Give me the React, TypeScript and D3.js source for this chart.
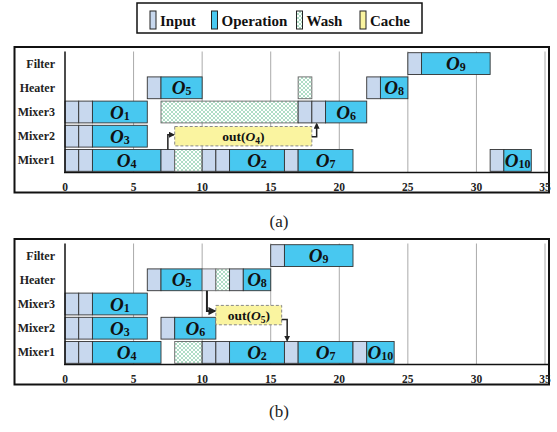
import React from "react";
import * as d3 from "d3";

const ROWS = ["Filter", "Heater", "Mixer3", "Mixer2", "Mixer1"];
const TICKS = [0, 5, 10, 15, 20, 25, 30, 35];
const LEGEND = [
  { kind: "input", label: "Input" },
  { kind: "op", label: "Operation" },
  { kind: "wash", label: "Wash" },
  { kind: "cache", label: "Cache" },
];

type Seg = [string, number, number, string, string?];

const tasksA: Seg[] = [
  ["Filter", 25, 26, "input"], ["Filter", 26, 31, "op", "9"],
  ["Heater", 6, 7, "input"], ["Heater", 7, 10, "op", "5"], ["Heater", 17, 18, "wash"],
  ["Heater", 22, 23, "input"], ["Heater", 23, 25, "op", "8"],
  ["Mixer3", 0, 1, "input"], ["Mixer3", 1, 2, "input"], ["Mixer3", 2, 6, "op", "1"],
  ["Mixer3", 7, 17, "wash"], ["Mixer3", 17, 18, "input"], ["Mixer3", 18, 19, "input"], ["Mixer3", 19, 22, "op", "6"],
  ["Mixer2", 0, 1, "input"], ["Mixer2", 1, 2, "input"], ["Mixer2", 2, 6, "op", "3"],
  ["Mixer1", 0, 1, "input"], ["Mixer1", 1, 2, "input"], ["Mixer1", 2, 7, "op", "4"],
  ["Mixer1", 7, 8, "input"], ["Mixer1", 8, 10, "wash"], ["Mixer1", 10, 11, "input"], ["Mixer1", 11, 12, "input"],
  ["Mixer1", 12, 16, "op", "2"], ["Mixer1", 16, 17, "input"], ["Mixer1", 17, 21, "op", "7"],
  ["Mixer1", 31, 32, "input"], ["Mixer1", 32, 34, "op", "10"],
];

const tasksB: Seg[] = [
  ["Filter", 15, 16, "input"], ["Filter", 16, 21, "op", "9"],
  ["Heater", 6, 7, "input"], ["Heater", 7, 10, "op", "5"], ["Heater", 10, 11, "hold"],
  ["Heater", 11, 12, "wash"], ["Heater", 12, 13, "input"], ["Heater", 13, 15, "op", "8"],
  ["Mixer3", 0, 1, "input"], ["Mixer3", 1, 2, "input"], ["Mixer3", 2, 6, "op", "1"],
  ["Mixer2", 0, 1, "input"], ["Mixer2", 1, 2, "input"], ["Mixer2", 2, 6, "op", "3"],
  ["Mixer2", 7, 8, "input"], ["Mixer2", 8, 11, "op", "6"],
  ["Mixer1", 0, 1, "input"], ["Mixer1", 1, 2, "input"], ["Mixer1", 2, 7, "op", "4"],
  ["Mixer1", 8, 10, "wash"], ["Mixer1", 10, 11, "input"], ["Mixer1", 11, 12, "input"],
  ["Mixer1", 12, 16, "op", "2"], ["Mixer1", 16, 17, "input"], ["Mixer1", 17, 21, "op", "7"],
  ["Mixer1", 21, 22, "input"], ["Mixer1", 22, 24, "op", "10"],
];

// cache: [start, end, label, arrow-in x, arrow-out x]
const cacheA = [8, 18, "4", 7.5, 18.35];
const cacheB = [11, 15.8, "5", 10.35, 16.2];

const FONT = "'Liberation Serif', 'Times New Roman', serif";
const FILL: Record<string, string> = {
  input: "#c8d8ee",
  op: "#48c8f0",
  wash: "url(#washPat)",
  hold: "#dfe5f3",
  cache: "#faf4a0",
};

const x = d3.scaleLinear().domain([0, 35]).range([65, 545]);

function Panel({ top, tasks, cache, variant, caption }: any) {
  const plotTop = top + 4.5;
  const axisY = top + 125.5;
  const y = d3.scaleBand<string>().domain(ROWS).range([plotTop, axisY]);
  const step = y.step();
  const bh = 21.8;
  const by = (r: string) => (y(r) as number) + (step - bh) / 2;
  const cy = (r: string) => (y(r) as number) + step / 2;

  const [cs, ce, clab, ax1, ax2] = cache as [number, number, string, number, number];
  let cacheY: number;
  const cacheH = 19.4;
  if (variant === "a") cacheY = cy("Mixer2") - cacheH / 2;
  else cacheY = (cy("Mixer3") + cy("Mixer2")) / 2 - 1 - cacheH / 2;
  const cacheMid = cacheY + cacheH / 2;

  let pathIn: string, pathOut: string;
  if (variant === "a") {
    pathIn = `M${x(ax1)},${by("Mixer1")} V${cacheMid - 1.5} H${x(cs) - 1}`;
    pathOut = `M${x(ce)},${cacheMid + 0.5} H${x(ax2)} V${by("Mixer3") + bh + 1}`;
  } else {
    pathIn = `M${x(ax1)},${by("Heater") + bh} V${cacheMid - 4} H${x(cs) - 1}`;
    pathOut = `M${x(ce)},${cacheMid + 4.5} H${x(ax2)} V${by("Mixer1") - 1}`;
  }

  return (
    <g>
      <rect x={14.5} y={top} width={534.5} height={145.5} fill="none" stroke="#111" strokeWidth={2} />
      {TICKS.filter((t) => t > 0).map((t) => (
        <line key={t} x1={x(t)} x2={x(t)} y1={plotTop} y2={axisY} stroke="#aaa" strokeWidth={1} />
      ))}
      {tasks.map((s: Seg, i: number) => {
        const [r, a, b, k] = s;
        return (
          <rect key={i} x={x(a)} y={by(r)} width={x(b) - x(a)} height={bh} fill={FILL[k]}
            stroke={k === "wash" || k === "hold" ? "#666" : "#333"} strokeWidth={0.9} />
        );
      })}
      {tasks.filter((s: Seg) => s[3] === "op").map((s: Seg, i: number) => {
        const [r, a, b, , lab] = s;
        return (
          <text key={i} x={(x(a) + x(b)) / 2} y={cy(r) + 6.5} textAnchor="middle" fontFamily={FONT}
            fontWeight="bold" fill="#111">
            <tspan fontStyle="italic" fontSize={19}>O</tspan>
            <tspan fontSize={12} dy={1}>{lab}</tspan>
          </text>
        );
      })}
      <rect x={x(cs)} y={cacheY} width={x(ce) - x(cs)} height={cacheH} fill={FILL.cache}
        stroke="#888" strokeWidth={1} strokeDasharray="3,2" />
      <text x={(x(cs) + x(ce)) / 2} y={cacheMid + 4.5} textAnchor="middle" fontFamily={FONT}
        fontWeight="bold" fontSize={13.5} fill="#111">
        <tspan>out(</tspan>
        <tspan fontStyle="italic">O</tspan>
        <tspan fontSize={9.5} dy={3}>{clab}</tspan>
        <tspan dy={-3}>)</tspan>
      </text>
      <path d={pathIn} fill="none" stroke="#222" strokeWidth={variant === "a" ? 1.5 : 2} markerEnd="url(#arrowHead)" />
      <path d={pathOut} fill="none" stroke="#222" strokeWidth={1.5} markerEnd="url(#arrowHead)" />
      <line x1={65} x2={65} y1={plotTop} y2={axisY} stroke="#111" strokeWidth={1.5} />
      <line x1={64} x2={548} y1={axisY} y2={axisY} stroke="#111" strokeWidth={1.5} />
      {ROWS.map((r) => (
        <text key={r} x={55} y={cy(r) + 4} textAnchor="end" fontFamily={FONT} fontWeight="bold"
          fontSize={12} fill="#222">{r}</text>
      ))}
      {TICKS.map((t) => (
        <text key={t} x={x(t)} y={axisY + 18} textAnchor="middle" fontFamily={FONT} fontWeight="bold"
          fontSize={11.5} fill="#222">{t}</text>
      ))}
      <text x={279} y={top + (variant === "a" ? 179.5 : 178)} textAnchor="middle" fontFamily={FONT}
        fontSize={17} fill="#222">{caption}</text>
    </g>
  );
}

export default function App() {
  const legendX = [150, 211.5, 296.5, 360];
  return (
    <svg width={557} height={432} style={{ position: "absolute", left: 0, top: 0, background: "#fff" }}>
      <defs>
        <pattern id="washPat" patternUnits="userSpaceOnUse" width={4} height={4}>
          <rect width={4} height={4} fill="#ffffff" />
          <path d="M0,0 L4,4 M4,0 L0,4" stroke="#a6d9c0" strokeWidth={0.9} />
        </pattern>
        <marker id="arrowHead" viewBox="0 0 10 10" refX={8} refY={5} markerWidth={4} markerHeight={4}
          orient="auto" markerUnits="strokeWidth">
          <path d="M0,0 L10,5 L0,10 z" fill="#222" />
        </marker>
      </defs>
      <rect x={0} y={0} width={557} height={432} fill="#fff" />
      <rect x={137} y={3} width={285} height={30} fill="#fff" stroke="#111" strokeWidth={1.5} />
      {LEGEND.map((l, i) => (
        <g key={l.kind}>
          <rect x={legendX[i]} y={11} width={6} height={18} fill={FILL[l.kind]}
            stroke="#222" strokeWidth={1} />
          <text x={legendX[i] + 10} y={25.5} fontFamily={FONT} fontWeight="bold"
            fontSize={15} fill="#111">{l.label}</text>
        </g>
      ))}
      <Panel top={47} tasks={tasksA} cache={cacheA} variant="a" caption="(a)" />
      <Panel top={239} tasks={tasksB} cache={cacheB} variant="b" caption="(b)" />
    </svg>
  );
}
